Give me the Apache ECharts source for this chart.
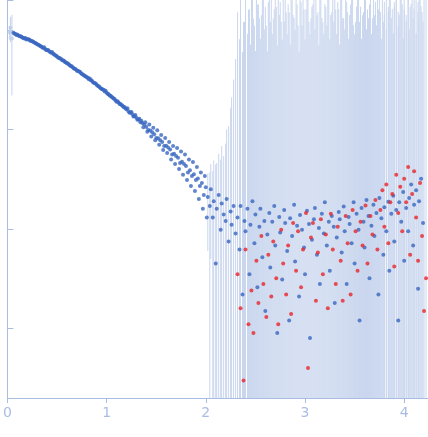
<!DOCTYPE html>
<html><head><meta charset="utf-8">
<script src="https://cdn.jsdelivr.net/npm/echarts@6/dist/echarts.min.js"></script>
<style>html,body{margin:0;padding:0;background:#fff}#c{width:428px;height:437px}</style>
</head><body><div id="c"></div>
<script>
const xTicks=[0,1,2,3,4];
const exX=[0.02,0.03,0.045];
const exY=[0.95,1.05,0.82];
const exE=[0.15,0.3,0.6];
const headX=[0.06,0.08,0.1,0.12,0.14,0.16,0.18,0.2,0.22,0.24,0.26,0.28,0.3,0.32,0.34,0.36,0.38,0.4,0.42,0.44,0.46,0.48,0.5,0.52,0.54,0.56,0.58,0.6,0.62,0.64,0.66,0.68,0.7,0.72,0.74,0.76,0.78,0.8,0.82,0.84,0.86,0.88,0.9,0.92,0.94,0.96,0.98,1.0,1.02,1.04,1.06,1.08,1.1,1.12,1.14,1.16,1.18,1.2,1.22,1.24,1.26,1.28,1.3,1.32,1.34,1.36,1.38,1.4,1.42,1.44,1.46,1.48,1.5,1.52,1.54,1.56,1.58,1.6,1.62,1.64,1.66,1.68,1.7,1.72,1.74,1.76,1.78,1.8,1.82,1.84,1.86,1.88,1.9,1.92,1.94,1.96,1.98,2.0];
const headY=[0.94,0.91,0.9,0.87,0.86,0.83,0.83,0.81,0.8,0.78,0.76,0.74,0.72,0.7,0.68,0.66,0.645,0.625,0.61,0.59,0.575,0.556,0.54,0.524,0.51,0.493,0.475,0.463,0.45,0.435,0.42,0.408,0.39,0.382,0.37,0.357,0.345,0.334,0.32,0.312,0.3,0.291,0.28,0.271,0.26,0.252,0.24,0.234,0.226,0.218,0.21,0.202,0.19,0.187,0.18,0.173,0.168,0.16,0.152,0.148,0.142,0.136,0.131,0.126,0.118,0.116,0.112,0.106,0.099,0.0975,0.094,0.0893,0.082,0.0818,0.078,0.075,0.068,0.0686,0.066,0.0627,0.056,0.0571,0.054,0.052,0.046,0.0473,0.045,0.043,0.037,0.039,0.034,0.0355,0.031,0.0321,0.027,0.029,0.022,0.0263];
const head2Y=[0.92,0.89,0.88,0.86,0.84,0.82,0.8,0.8,0.78,0.77,0.75,0.73,0.71,0.69,0.67,0.67,0.63,0.63,0.6,0.6,0.57,0.55,0.53,0.52,0.5,0.49,0.47,0.46,0.44,0.43,0.41,0.4,0.39,0.38,0.36,0.35,0.34,0.33,0.325,0.31,0.295,0.29,0.275,0.265,0.255,0.25,0.245,0.228,0.22,0.212,0.205,0.195,0.192,0.18,0.176,0.168,0.162,0.163,0.147,0.15,0.135,0.14,0.125,0.128,0.122,0.105,0.118,0.095,0.112,0.085,0.104,0.078,0.098,0.07,0.088,0.062,0.082,0.058,0.075,0.05,0.068,0.045,0.065,0.04,0.06,0.035,0.056,0.031,0.05,0.027,0.047,0.024,0.042,0.02,0.037,0.016,0.034,0.013];
const tailX=[2.02,2.04,2.05,2.07,2.08,2.1,2.11,2.13,2.15,2.16,2.18,2.2,2.21,2.23,2.25,2.26,2.28,2.3,2.32,2.34,2.35,2.37,2.39,2.4,2.42,2.44,2.45,2.47,2.49,2.5,2.52,2.54,2.55,2.57,2.59,2.6,2.62,2.64,2.65,2.67,2.69,2.7,2.72,2.74,2.75,2.77,2.79,2.8,2.82,2.84,2.85,2.87,2.89,2.9,2.92,2.94,2.95,2.97,2.99,3.0,3.02,3.04,3.05,3.07,3.09,3.1,3.12,3.14,3.15,3.17,3.19,3.2,3.22,3.24,3.25,3.27,3.29,3.3,3.32,3.34,3.35,3.37,3.39,3.4,3.42,3.44,3.45,3.47,3.49,3.5,3.52,3.54,3.55,3.57,3.59,3.6,3.62,3.64,3.65,3.67,3.69,3.7,3.72,3.74,3.75,3.77,3.79,3.8,3.82,3.84,3.85,3.87,3.89,3.9,3.92,3.94,3.95,3.97,3.99,4.0,4.02,4.04,4.05,4.07,4.09,4.1,4.12,4.14,4.15,4.17,4.19,4.2,4.22];
const tailY=[0.021,0.017,0.025,0.013,0.019,0.0045,0.016,0.022,0.0098,0.018,0.014,0.012,0.02,0.0075,0.015,0.011,0.017,0.009,0.013,0.0062,0.017,0.0022,0.012,0.0095,0.016,0.0035,0.011,0.019,0.0072,0.014,0.0026,0.0105,0.016,0.0052,0.012,0.0015,0.0088,0.0145,0.0041,0.0118,0.017,0.0068,0.0009,0.0132,0.0092,0.0031,0.0155,0.0115,0.006,0.0012,0.0128,0.0085,0.0175,0.0047,0.0108,0.0021,0.0138,0.0098,0.0065,0.0035,0.0152,0.0112,0.0008,0.0078,0.0125,0.0162,0.0055,0.0102,0.0028,0.0142,0.009,0.0185,0.0068,0.0118,0.0038,0.0135,0.0105,0.0018,0.0082,0.0148,0.0125,0.0058,0.0168,0.0095,0.0028,0.0132,0.0112,0.0072,0.0185,0.0045,0.0142,0.0098,0.0012,0.0162,0.0118,0.0065,0.0195,0.0135,0.0032,0.0108,0.0175,0.0085,0.0145,0.0022,0.0205,0.0128,0.0055,0.0165,0.0095,0.0188,0.0038,0.0142,0.0215,0.0075,0.0155,0.0012,0.0185,0.0118,0.0235,0.0048,0.0162,0.0095,0.0205,0.028,0.0068,0.0175,0.0245,0.0025,0.019,0.032,0.0115];
const tailE=[0.015,0.02,0.02,0.025,0.03,0.04,0.03,0.035,0.04,0.05,0.04,0.06,0.08,0.1,0.15,0.2,0.3,0.5,0.5,0.8,1.5,0.6,1.2,2,0.9,1.6,0.7,2,1.1,0.6,1.8,1.3,0.8,2,1.0,1.7,0.6,2,1.2,0.9,1.6,2,0.7,1.4,1.9,0.8,1.2,2,0.9,1.5,0.7,2,1.3,1.0,1.8,0.6,2,1.1,1.6,0.8,2,1.2,0.9,1.7,2,1.0,1.4,0.7,2,1.3,0.9,1.8,1.1,2,0.8,1.5,1.2,2,0.9,1.6,0.7,2,1.3,1.0,1.9,0.8,1.4,2,1.1,0.9,1.7,2,1.2,0.8,1.5,2,1.0,1.3,1.8,0.9,2,1.4,1.1,1.6,2,0.8,1.2,1.9,1.0,1.5,2,1.3,0.9,1.7,2,1.1,1.4,2,0.8,1.6,1.2,2,1.0,1.8,1.3,2,0.9,1.5,2,1.7,1.2];
const redX=[2.32,2.35,2.38,2.4,2.43,2.46,2.48,2.51,2.53,2.56,2.58,2.61,2.63,2.66,2.68,2.71,2.73,2.76,2.78,2.81,2.83,2.86,2.88,2.91,2.93,2.96,2.98,3.01,3.03,3.06,3.08,3.11,3.13,3.16,3.18,3.21,3.23,3.26,3.28,3.31,3.33,3.36,3.38,3.41,3.43,3.46,3.48,3.51,3.53,3.56,3.58,3.61,3.63,3.66,3.68,3.71,3.73,3.76,3.78,3.8,3.82,3.84,3.86,3.88,3.9,3.92,3.94,3.96,3.98,4.0,4.02,4.04,4.06,4.08,4.1,4.12,4.14,4.16,4.18,4.2,4.22];
const redY=[0.0035,0.0016,0.0003,0.0062,0.0011,0.0024,0.0009,0.0048,0.0018,0.0085,0.0028,0.0013,0.0055,0.0021,0.0075,0.0032,0.0011,0.0098,0.0045,0.0022,0.0068,0.0014,0.0115,0.0038,0.0095,0.0026,0.0062,0.0145,0.0004,0.0082,0.0115,0.0019,0.0058,0.0125,0.0035,0.0088,0.0016,0.0142,0.0062,0.0028,0.0105,0.0048,0.0019,0.0135,0.0072,0.0022,0.0155,0.0095,0.0038,0.0118,0.0068,0.0172,0.0045,0.0135,0.0088,0.0195,0.0062,0.0155,0.0245,0.0105,0.028,0.0072,0.0185,0.0225,0.0042,0.035,0.0145,0.0265,0.0095,0.032,0.0185,0.042,0.0055,0.0225,0.038,0.013,0.0048,0.029,0.0085,0.0015,0.0032];
const redE=[1.5,2,1.2,2,1.6,2,1.3,2,1.8,1.4,2,1.1,1.9,2,1.3,1.7,2,1.2,2,1.5,1.8,2,1.4,2,1.1,1.9,2,1.6,2,1.3,1.8,2,1.5,2,1.2,1.7,2,1.4,2,1.6,1.9,2,1.3,2,1.5,1.8,2,1.2,2,1.7,1.4,2,1.6,2,1.3,1.9,2,1.5,2,1.4,2,1.7,2,1.6,1.9,2,1.5,2,1.8,2,1.4,2,1.7,2,1.6,2,1.9,2,1.5,2,2];
const YMIN=0.0002,YMAX=2;
function pts(X,Y){return X.map((x,i)=>[x,Y[i]]);}
function ebar(X,Y,E){return X.map((x,i)=>[x,Math.max(Y[i]-E[i],YMIN),Math.min(Y[i]+E[i],YMAX)]);}
const errColor='#c9d6ee';
function errSeries(data,color){return {type:'custom',silent:true,z:1,data:data,encode:{x:0,y:[1,2]},
 renderItem:(p,api)=>{const a=api.coord([api.value(0),api.value(1)]),b=api.coord([api.value(0),api.value(2)]);
 return {type:'line',shape:{x1:a[0],y1:a[1],x2:b[0],y2:b[1]},style:{stroke:color,lineWidth:1}};}};}
const chart=echarts.init(document.getElementById('c'));
chart.setOption({animation:false,
grid:{left:5,right:0,top:0,bottom:39},
xAxis:{type:'value',min:0,max:4.24,interval:1,axisLine:{lineStyle:{color:'#a9bde3'}},axisTick:{show:true,lineStyle:{color:'#a9bde3'}},splitLine:{show:false},
 axisLabel:{color:'#a9bde3',fontSize:14,fontFamily:'DejaVu Sans',showMaxLabel:false}},
yAxis:{type:'log',min:YMIN,max:YMAX,logBase:10,axisLine:{show:true,lineStyle:{color:'#a9bde3'}},axisTick:{show:true,inside:true,length:6,lineStyle:{color:'#a9bde3'}},axisLabel:{show:false},splitLine:{show:false}},
series:[
 errSeries(ebar(exX,exY,exE),'#c6d4ec'),
 errSeries(ebar(tailX,tailY,tailE),errColor),
 errSeries(ebar(redX,redY,redE),errColor),
 {type:'scatter',z:3,symbolSize:4,itemStyle:{color:'#bcccea'},data:pts(exX,exY)},
 {type:'scatter',z:3,symbolSize:4,itemStyle:{color:'#3a66c0'},data:pts(headX,headY)},
 {type:'scatter',z:3,symbolSize:4,itemStyle:{color:'#3a66c0'},data:pts(headX.map(x=>x+0.01),head2Y)},
 {type:'scatter',z:3,symbolSize:4,itemStyle:{color:'#3a66c0'},data:pts(tailX,tailY)},
 {type:'scatter',z:4,symbolSize:4,itemStyle:{color:'#e8262a'},data:pts(redX,redY)}
]});
</script></body></html>
